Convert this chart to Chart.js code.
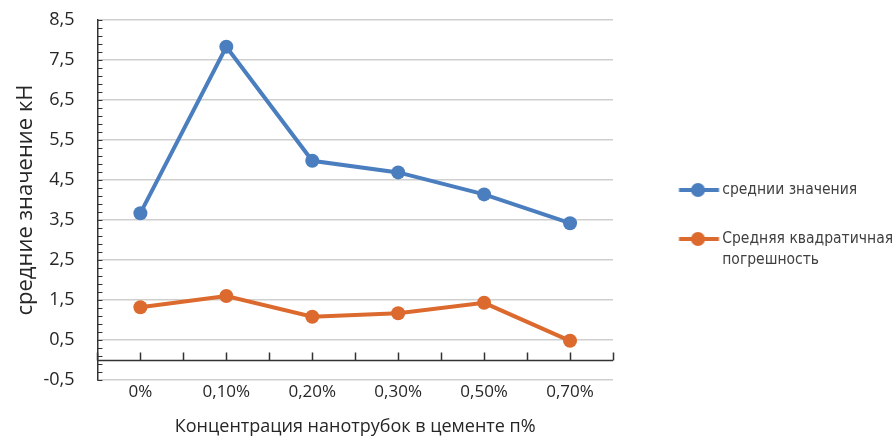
<!DOCTYPE html>
<html>
<head>
<meta charset="utf-8">
<script src="https://cdn.jsdelivr.net/npm/chart.js@4.4.1/dist/chart.umd.min.js"></script>
<style>
  html, body { margin: 0; padding: 0; background: #fff; }
  #wrap { width: 892px; height: 441px; }
</style>
</head>
<body>
<div id="wrap"><canvas id="chart"></canvas></div>
<script>
// data
const categories = ['0%', '0,10%', '0,20%', '0,30%', '0,50%', '0,70%'];
const meanValues = [3.67, 7.83, 4.98, 4.69, 4.14, 3.42];
const errorValues = [1.32, 1.60, 1.08, 1.17, 1.43, 0.48];
const seriesNames = ['среднии значения', ['Средняя квадратичная', 'погрешность']];
const yTickValues = [-0.5, 0.5, 1.5, 2.5, 3.5, 4.5, 5.5, 6.5, 7.5, 8.5];
const yMinorStep = 0.2;

const blue = '#4a7ebf';
const orange = '#dc6a2e';
const textColor = '#262626';
const axisColor = '#333333';
const baseFont = '"Open Sans", "Noto Sans", sans-serif';

// line + dot legend symbol
function legendMarker(color) {
  const c = document.createElement('canvas');
  c.width = 80;
  c.height = 18;
  const g = c.getContext('2d');
  g.strokeStyle = color;
  g.lineWidth = 4;
  g.beginPath();
  g.moveTo(38.5, 9);
  g.lineTo(78.5, 9);
  g.stroke();
  g.fillStyle = color;
  g.beginPath();
  g.arc(57.5, 9, 7, 0, Math.PI * 2);
  g.fill();
  return c;
}
const markers = [legendMarker(blue), legendMarker(orange)];

// keep the legend column as wide as in the picture
const legendWidth = {
  id: 'legendWidth',
  beforeInit(chart) {
    const lg = chart.legend;
    if (!lg) return;
    const fit = lg.fit;
    lg.fit = function () {
      fit.call(this);
      this.width = 279;
    };
  }
};

// zero line with category ticks, minor ticks on the value axis
const axisMarks = {
  id: 'axisMarks',
  beforeDatasetsDraw(chart) {
    const { ctx, chartArea, scales: { x, y } } = chart;
    const y0 = Math.round(y.getPixelForValue(0)) + 0.5;
    ctx.save();
    ctx.strokeStyle = axisColor;
    ctx.lineWidth = 1.5;
    ctx.beginPath();
    ctx.moveTo(chartArea.left, y0);
    ctx.lineTo(chartArea.right, y0);
    for (let i = -0.5; i <= categories.length - 0.5; i += 0.5) {
      const px = Math.round(x.getPixelForValue(i)) + 0.5;
      ctx.moveTo(px, y0);
      ctx.lineTo(px, y0 - 8);
    }
    ctx.stroke();
    ctx.lineWidth = 1.2;
    ctx.beginPath();
    for (let v = y.min; v <= y.max + 1e-9; v += yMinorStep) {
      const py = Math.round(y.getPixelForValue(v)) + 0.5;
      ctx.moveTo(chartArea.left, py);
      ctx.lineTo(chartArea.left + 5, py);
    }
    ctx.stroke();
    ctx.restore();
  }
};

new Chart(document.getElementById('chart'), {
  type: 'line',
  data: {
    labels: categories,
    datasets: [{
      label: seriesNames[0],
      data: meanValues,
      borderColor: blue,
      backgroundColor: blue,
      borderWidth: 4,
      pointRadius: 7,
      pointBorderWidth: 0,
      tension: 0
    }, {
      label: seriesNames[1],
      data: errorValues,
      borderColor: orange,
      backgroundColor: orange,
      borderWidth: 4,
      pointRadius: 7,
      pointBorderWidth: 0,
      tension: 0
    }]
  },
  options: {
    responsive: true,
    maintainAspectRatio: false,
    animation: false,
    layout: { autoPadding: false, padding: { left: 9, top: 20, right: 0, bottom: 0 } },
    plugins: {
      tooltip: { enabled: false },
      legend: {
        position: 'right',
        align: 'center',
        fullSize: false,
        title: {
          display: true,
          text: ' ',
          font: { size: 1, lineHeight: 1 },
          padding: { top: 54.5, bottom: 0 }
        },
        labels: {
          usePointStyle: true,
          pointStyleWidth: 68,
          padding: 33.5,
          color: '#404040',
          font: { family: '"DejaVu Sans Condensed", "DejaVu Sans", sans-serif', size: 15.5, lineHeight: 1.355 },
          generateLabels: () => seriesNames.map((name, i) => ({
            text: name,
            pointStyle: markers[i],
            fillStyle: i ? orange : blue,
            strokeStyle: i ? orange : blue,
            fontColor: '#404040',
            lineWidth: 0,
            hidden: false,
            datasetIndex: i
          }))
        }
      }
    },
    scales: {
      x: {
        type: 'category',
        offset: true,
        grid: { display: false, drawTicks: false },
        border: { display: false },
        ticks: { color: textColor, font: { family: baseFont, size: 17 }, padding: 2 },
        title: {
          display: true,
          text: 'Концентрация нанотрубок в цементе п%',
          color: textColor,
          font: { family: baseFont, size: 18 },
          padding: { top: 12, bottom: 3 }
        }
      },
      y: {
        type: 'linear',
        position: 'left',
        min: -0.5,
        max: 8.5,
        afterBuildTicks: (scale) => { scale.ticks = yTickValues.map(v => ({ value: v })); },
        ticks: {
          color: textColor,
          font: { family: baseFont, size: 18 },
          padding: 0,
          callback: (v) => v.toFixed(1).replace('.', ',')
        },
        grid: { color: '#cfcfcf', lineWidth: 1.5, drawTicks: true, tickLength: 23, tickColor: 'rgba(0,0,0,0)' },
        border: { display: true, color: axisColor, width: 1.5 },
        title: {
          display: true,
          text: 'средние значение кН',
          color: textColor,
          font: { family: baseFont, size: 22 },
          padding: { top: 4, bottom: 4 }
        }
      }
    }
  },
  plugins: [legendWidth, axisMarks]
});
</script>
</body>
</html>
